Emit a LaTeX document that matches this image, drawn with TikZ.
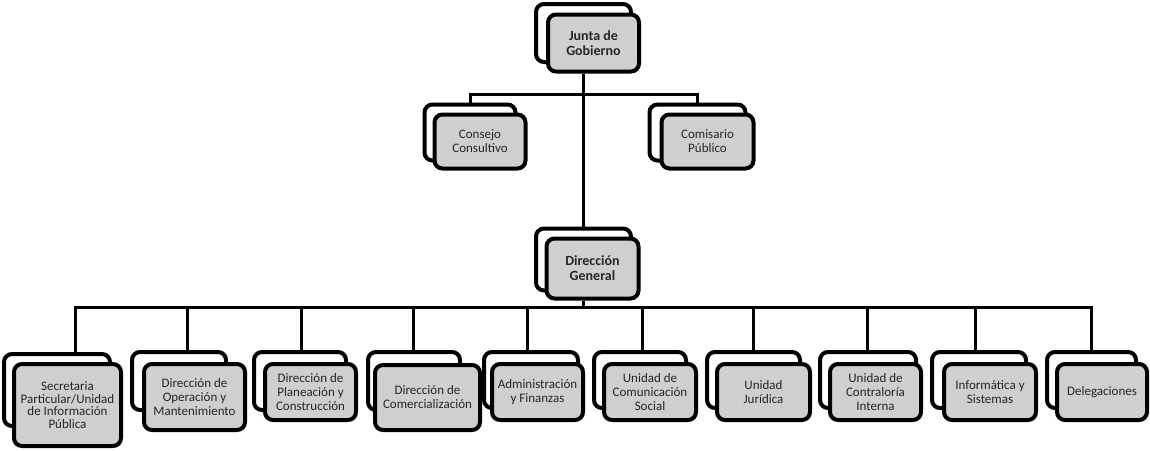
\documentclass[tikz,border=0pt]{standalone}
\usepackage{fontspec}
\setmainfont{Carlito}
\definecolor{boxgray}{RGB}{207,207,207}
\tikzset{
  backbox/.style={draw=black, line width=4pt, rounded corners=8pt, fill=white, inner sep=0pt},
  frontbox/.style={draw=black, line width=4pt, rounded corners=8pt, fill=boxgray, inner sep=0pt,
     align=center, font=\fontsize{13}{14}\selectfont, text=black!85},
  boldtext/.style={font=\fontsize{14}{15}\selectfont\bfseries},
  conn/.style={draw=black, line width=3pt},
}
\begin{document}
\begin{tikzpicture}[x=1pt,y=-1pt]
\useasboundingbox (0,0) rectangle (1150,450);
% --- top level
\node[backbox, minimum width=95pt, minimum height=58pt] (jg-b) at (583.5,33) {};
\node[frontbox, boldtext, minimum width=91pt, minimum height=57pt] (jg) at (593.5,43) {Junta de\\Gobierno};
\node[backbox, minimum width=91pt, minimum height=56pt] (cc-b) at (470,132.5) {};
\node[frontbox, minimum width=91pt, minimum height=54pt] (cc) at (480,141.5) {Consejo\\Consultivo};
\node[backbox, minimum width=96pt, minimum height=56pt] (cp-b) at (697.5,132.5) {};
\node[frontbox, minimum width=92pt, minimum height=54pt] (cp) at (707.5,141.5) {Comisario\\Público};
\node[backbox, minimum width=95pt, minimum height=62pt] (dg-b) at (583.5,259.5) {};
\node[frontbox, boldtext, minimum width=92pt, minimum height=60pt] (dg) at (592.5,268.5) {Dirección\\General};
% --- bottom row
\node[backbox, minimum width=106pt, minimum height=72pt] (sec-b) at (57,390) {};
\node[frontbox, font=\fontsize{13}{12.5}\selectfont, minimum width=107pt, minimum height=82pt] (sec) at (67.5,405) {Secretaria\\Particular/Unidad\\de Información\\Pública};
\node[backbox, minimum width=94pt, minimum height=58pt] (op-b) at (179,381) {};
\node[frontbox, minimum width=101pt, minimum height=66pt] (op) at (194.5,397) {Dirección de\\Operación y\\Mantenimiento};
\node[backbox, minimum width=92pt, minimum height=58pt] (pc-b) at (300,381) {};
\node[frontbox, minimum width=91pt, minimum height=56pt] (pc) at (310.5,392) {Dirección de\\Planeación y\\Construcción};
\node[backbox, minimum width=92pt, minimum height=58pt] (com-b) at (414,381) {};
\node[frontbox, minimum width=105pt, minimum height=65pt] (com) at (427.5,397.5) {Dirección de\\Comercialización};
\node[backbox, minimum width=94pt, minimum height=56pt] (af-b) at (531,380) {};
\node[frontbox, minimum width=91pt, minimum height=56pt] (af) at (537.5,392) {Administración\\y Finanzas};
\node[backbox, minimum width=92pt, minimum height=56pt] (ucs-b) at (640,380) {};
\node[frontbox, minimum width=92pt, minimum height=56pt] (ucs) at (650,392) {Unidad de\\Comunicación\\Social};
\node[backbox, minimum width=93pt, minimum height=56pt] (uj-b) at (753.5,380) {};
\node[frontbox, minimum width=93pt, minimum height=56pt] (uj) at (763.5,392) {Unidad\\Jurídica};
\node[backbox, minimum width=96pt, minimum height=56pt] (uci-b) at (868,380) {};
\node[frontbox, minimum width=91pt, minimum height=56pt] (uci) at (875.5,392) {Unidad de\\Contraloría\\Interna};
\node[backbox, minimum width=94pt, minimum height=56pt] (is-b) at (979,380) {};
\node[frontbox, minimum width=92pt, minimum height=56pt] (is) at (990,392) {Informática y\\Sistemas};
\node[backbox, minimum width=89pt, minimum height=56pt] (del-b) at (1091.5,380) {};
\node[frontbox, minimum width=90pt, minimum height=56pt] (del) at (1102,392) {Delegaciones};
% --- connectors
\coordinate (topbus) at (0,94);
\coordinate (bus) at (0,307);
\draw[conn] (jg-b.center |- jg.south) -- (dg-b.north);
\draw[conn] (cc-b.north) -- (cc-b.north |- topbus) -- (cp-b.north |- topbus) -- (cp-b.north);
\draw[conn] (dg-b.center |- dg.south) -- (dg-b.center |- bus);
\draw[conn] ([xshift=18pt]sec-b.north) -- ([xshift=18pt]sec-b.north |- bus) -- (del-b.north |- bus) -- (del-b.north);
\draw[conn] ([xshift=8pt]op-b.north) -- ([xshift=8pt]op-b.north |- bus);
\draw[conn] ([xshift=1pt]pc-b.north) -- ([xshift=1pt]pc-b.north |- bus);
\draw[conn] ([xshift=-1pt]com-b.north) -- ([xshift=-1pt]com-b.north |- bus);
\draw[conn] ([xshift=-4pt]af-b.north) -- ([xshift=-4pt]af-b.north |- bus);
\draw[conn] ([xshift=2pt]ucs-b.north) -- ([xshift=2pt]ucs-b.north |- bus);
\draw[conn] (uj-b.north) -- (uj-b.north |- bus);
\draw[conn] ([xshift=-1pt]uci-b.north) -- ([xshift=-1pt]uci-b.north |- bus);
\draw[conn] ([xshift=-4pt]is-b.north) -- ([xshift=-4pt]is-b.north |- bus);
\end{tikzpicture}
\end{document}
